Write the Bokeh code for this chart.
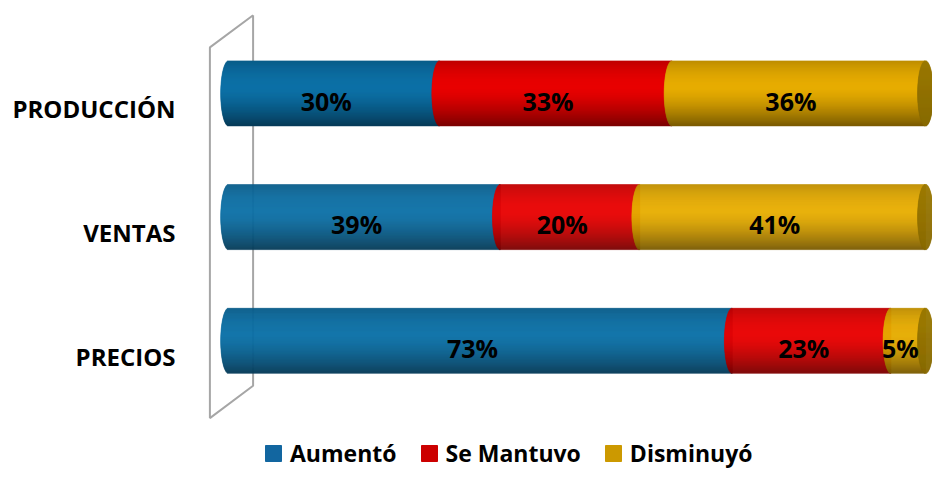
import numpy as np
from bokeh.plotting import figure
from bokeh.models import Range1d, FixedTicker, Legend, LegendItem, ColumnDataSource
from bokeh.core.properties import value
from bokeh.embed import file_html
from bokeh.resources import INLINE

# ---------------- data ----------------
categories = ["PRODUCCIÓN", "VENTAS", "PRECIOS"]
series_names = ["Aumentó", "Se Mantuvo", "Disminuyó"]
aumento = [30, 39, 73]
se_mantuvo = [33, 20, 23]
disminuyo = [36, 41, 5]
series_values = [aumento, se_mantuvo, disminuyo]

# ---------------- style ----------------
W, H = 932, 469
FRAME_LEFT = 199
ZERO_PX = 228.1          # figure px of 0 %
PX_X = (925.0 - ZERO_PX) / 100.0
Y_UNIT = 123.7           # pixels per category
Y0_PX = 355.5            # figure px of the lowest category tick
BAR_H = 65.0 / Y_UNIT
BAR_SHIFT = 15.2 / Y_UNIT   # 3D depth shift of the bars above the label line
LABEL_DROP = 7.3 / Y_UNIT   # data label anchor below bar centre
CAP_A = 7.9 / PX_X          # half width of the cylinder ellipse
N_STRIPS = 65
FONT = "Open Sans"

mid_colors = [(12, 112, 166), (232, 0, 0), (230, 172, 0)]
face_color = (154, 120, 0)
legend_colors = ["#1266a0", "#cc0000", "#cc9900"]
wall_color = "#a6a6a6"


def shade(t):
    if t < 0.42:
        return 1 - 0.18 * ((0.42 - t) / 0.42) ** 2
    return 1 - 0.47 * ((t - 0.42) / 0.58) ** 1.5


def hexcol(rgb, f):
    r, g, b = [int(max(0, min(255, round(c * f)))) for c in rgb]
    return "#%02x%02x%02x" % (r, g, b)


def xpx(v):
    return (v - ZERO_PX) / PX_X


def ypx(v):
    return (Y0_PX - v) / Y_UNIT


p = figure(width=W, height=H, x_range=Range1d(xpx(FRAME_LEFT), xpx(W)),
           y_range=Range1d(ypx(H), ypx(0)),
           output_backend="svg", toolbar_location=None, x_axis_location=None,
           min_border_left=FRAME_LEFT, min_border_right=0, min_border_top=0, min_border_bottom=0)
p.outline_line_color = None
p.xgrid.visible = False
p.ygrid.visible = False
p.background_fill_color = "white"

# ---------------- wall (decorative 3D back wall) ----------------
wx0, wx1 = xpx(209.4), xpx(252.6)
p.line([wx1, wx0, wx0, wx1, wx1], [ypx(14.7), ypx(46.9), ypx(417.6), ypx(385.3), ypx(14.7)],
       line_color=wall_color, line_width=2)

# ---------------- cylinders ----------------
n_cat = len(categories)
ypos = [n_cat - 1 - i for i in range(n_cat)]
L, R, T, B, C = [], [], [], [], []
lab_x, lab_y, lab_t = [], [], []
for i, cat in enumerate(categories):
    vals = [s[i] for s in series_values]
    tot = float(sum(vals))
    cum = np.concatenate([[0], np.cumsum(vals)]) / tot * 100
    yc = ypos[i] + BAR_SHIFT
    top0 = yc + BAR_H / 2
    dh = BAR_H / N_STRIPS
    for j in range(len(vals)):
        for k in range(N_STRIPS):
            t = (k + 0.5) / N_STRIPS
            s = 2 * t - 1
            bulge = CAP_A * np.sqrt(max(0.0, 1 - s * s))
            L.append(cum[j] - bulge)
            R.append(cum[j + 1])
            T.append(top0 - k * dh)
            B.append(top0 - (k + 1) * dh)
            C.append(hexcol(mid_colors[j], shade(t)))
        lab_x.append((cum[j] + cum[j + 1]) / 2 - CAP_A)
        lab_y.append(yc - LABEL_DROP)
        lab_t.append("%d%%" % vals[j])
    # end face
    for k in range(N_STRIPS):
        t = (k + 0.5) / N_STRIPS
        s = 2 * t - 1
        bulge = CAP_A * np.sqrt(max(0.0, 1 - s * s))
        L.append(cum[-1] - bulge)
        R.append(cum[-1] + bulge)
        T.append(top0 - k * dh)
        B.append(top0 - (k + 1) * dh)
        C.append(hexcol(face_color, 1.0 - 0.12 * t))

src = ColumnDataSource(dict(left=L, right=R, top=T, bottom=B, color=C))
p.quad(left="left", right="right", top="top", bottom="bottom", source=src,
       fill_color="color", line_color="color", line_width=0.6)

p.text(x=lab_x, y=lab_y, text=lab_t, text_align="center", text_baseline="middle",
       text_font=value(FONT), text_font_style="bold", text_font_size="25px", text_color="black")

# ---------------- axis ----------------
p.yaxis.ticker = FixedTicker(ticks=ypos)
p.yaxis.major_label_overrides = {ypos[i]: categories[i] for i in range(n_cat)}
p.yaxis.axis_line_color = None
p.yaxis.major_tick_line_color = None
p.yaxis.minor_tick_line_color = None
p.yaxis.major_tick_out = 0
p.yaxis.major_tick_in = 0
p.yaxis.minor_tick_out = 0
p.yaxis.major_label_standoff = 24
p.yaxis.major_label_text_font = FONT
p.yaxis.major_label_text_font_style = "bold"
p.yaxis.major_label_text_font_size = "24px"
p.yaxis.major_label_text_color = "black"

# ---------------- legend ----------------
items = []
for name, col in zip(series_names, legend_colors):
    r = p.quad(left=[np.nan], right=[np.nan], top=[np.nan], bottom=[np.nan],
               fill_color=col, line_color=col)
    items.append(LegendItem(label=name, renderers=[r]))
legend = Legend(items=items, orientation="horizontal", location=(64, 0),
                glyph_width=20, glyph_height=20, label_standoff=7, spacing=22,
                padding=0, margin=0, border_line_color=None, background_fill_alpha=0,
                label_text_font=FONT, label_text_font_style="bold",
                label_text_font_size="23px", label_text_color="black")
p.add_layout(legend)

with open("out.html", "w", encoding="utf-8") as f:
    f.write(file_html(p, INLINE))
